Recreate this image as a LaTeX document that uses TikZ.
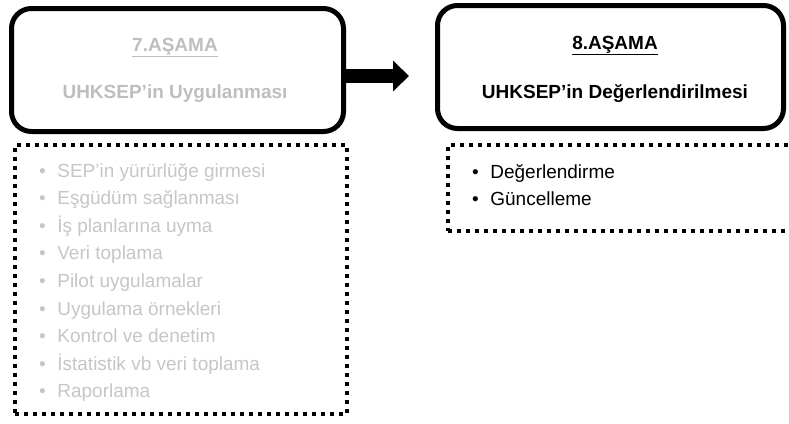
\documentclass[tikz,border=0pt]{standalone}
\usepackage{fontspec}
\setmainfont{Liberation Sans}
\usetikzlibrary{arrows.meta,positioning}

\definecolor{fadegray}{RGB}{190,190,190}
\definecolor{listgray}{RGB}{198,198,198}

\tikzset{
  stagebox/.style={draw, line width=5pt, rounded corners=20pt, inner sep=0pt},
  dotbox/.style={draw, line width=4pt, dash pattern=on 4pt off 5pt, inner sep=0pt},
  headtext/.style={font=\fontsize{19}{23}\selectfont\bfseries, inner sep=0pt, anchor=base},
  itemtext/.style={font=\fontsize{19}{23}\selectfont, inner sep=0pt, anchor=base west},
}

\begin{document}
\begin{tikzpicture}[x=1pt,y=-1pt]
  \useasboundingbox (0,0) rectangle (789,423);
  \clip (0,0) rectangle (789,423);

  % stage boxes
  \node[stagebox, minimum width=332pt, minimum height=123pt] (stage7) at (177.5,70) {};
  \node[stagebox, minimum width=346pt, minimum height=123pt] (stage8) at (610.5,67) {};

  % headings
  \node[headtext, text=fadegray] (title7) at (175,51) {\underline{7.AŞAMA}};
  \node[headtext, text=fadegray] (name7) at (175,98) {UHKSEP’in Uygulanması};
  \node[headtext] (title8) at (615,49) {\underline{8.AŞAMA}};
  \node[headtext] (name8) at (615,98) {UHKSEP’in Değerlendirilmesi};

  % arrow between the stages
  \coordinate (arrowtip) at (409,76);
  \draw[line width=14pt, -{Triangle[length=16pt,width=30pt]}]
    (stage7.east |- arrowtip) -- (arrowtip);

  % dotted lists
  \node[dotbox, minimum width=332pt, minimum height=269pt] (list7) at (181,279.5) {};
  \node[dotbox, minimum width=352pt, minimum height=86pt] (list8) at (624,188) {};

  \foreach \txt [count=\i] in {SEP’in yürürlüğe girmesi, Eşgüdüm sağlanması,
      İş planlarına uyma, Veri toplama, Pilot uygulamalar, Uygulama örnekleri,
      Kontrol ve denetim, İstatistik vb veri toplama, Raporlama}
    \node[itemtext, text=listgray] (item7-\i) at (39,177+27.6*\i-27.6)
      {\textbullet\hspace{11.5pt}\txt};

  \foreach \txt [count=\i] in {Değerlendirme, Güncelleme}
    \node[itemtext] (item8-\i) at (472,178+27*\i-27)
      {\textbullet\hspace{11.5pt}\txt};
\end{tikzpicture}
\end{document}
